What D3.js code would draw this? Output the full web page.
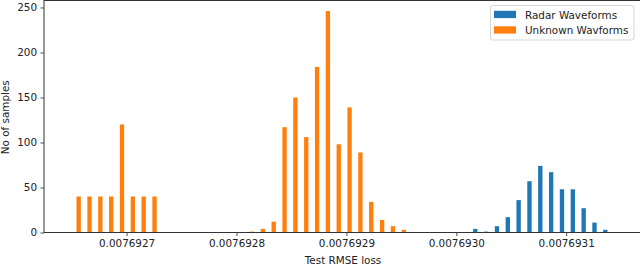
<!DOCTYPE html>
<html>
<head>
<meta charset="utf-8">
<script src="https://cdn.jsdelivr.net/npm/d3@7"></script>
<style>
  html, body { margin: 0; padding: 0; background: #fff; }
  svg { display: block; font-family: "DejaVu Sans", sans-serif; }
</style>
</head>
<body>
<svg id="chart" width="640" height="265"></svg>
<script>
// ---- data (histogram with 50 shared bins) ----
const seriesNames = ["Radar Waveforms", "Unknown Wavforms"];
const seriesColors = ["#1f77b4", "#ff7f0e"];
const histMin = 0.0076926495;
const histMax = 0.0076931425;
const binCount = 50;
const radarCounts = [
  0,0,0,0,0,0,0,0,0,0,
  0,0,0,0,0,0,0,0,0,0,
  0,0,0,0,0,0,0,0,0,0,
  0,0,0,0,0,0,0,4,1,7,
  17,36,57,74,67,48,48,27,11,3
];
const unknownCounts = [
  40,40,40,40,120,40,40,40,0,0,
  0,0,0,0,0,0,1,4,12,117,
  150,106,184,246,98,139,89,34,14,7,
  3,0,0,0,0,0,0,0,0,0,
  0,0,0,0,0,0,0,0,0,0
];
const xTickValues = [0.0076927, 0.0076928, 0.0076929, 0.0076930, 0.0076931];
const xTickLabels = ["0.0076927", "0.0076928", "0.0076929", "0.0076930", "0.0076931"];
const yTickValues = [0, 50, 100, 150, 200, 250];
const xLabel = "Test RMSE loss";
const yLabel = "No of samples";

// ---- layout ----
const svg = d3.select("#chart");
const L = 44, R = 640, T = 0, B = 232.5;
const span = histMax - histMin;
const x = d3.scaleLinear()
  .domain([histMin - 0.05 * span, histMax + 0.05 * span])
  .range([L, R]);
const yMax = d3.max(unknownCounts.concat(radarCounts)) * 1.05;
const y = d3.scaleLinear().domain([0, yMax]).range([B, T]);

const binW = span / binCount;
const series = [radarCounts, unknownCounts];
const fontSize = 10.4;

// bars
series.forEach((counts, s) => {
  svg.append("g")
    .selectAll("rect")
    .data(counts.map((c, i) => ({ c, i })).filter(d => d.c > 0))
    .join("rect")
    .attr("x", d => x(histMin + d.i * binW + binW * (0.1 + 0.4 * s)))
    .attr("width", d => x(histMin + binW * 0.4) - x(histMin))
    .attr("y", d => y(d.c))
    .attr("height", d => y(0) - y(d.c))
    .attr("fill", seriesColors[s]);
});

// axes
const xAxis = d3.axisBottom(x)
  .tickValues(xTickValues)
  .tickFormat((d, i) => xTickLabels[i])
  .tickSize(3.5).tickPadding(3.5);
const gx = svg.append("g").attr("transform", `translate(0,${B})`).call(xAxis);
const yAxis = d3.axisLeft(y).tickValues(yTickValues).tickSize(3.5).tickPadding(3.5);
const gy = svg.append("g").attr("transform", `translate(${L},0)`).call(yAxis);
[gx, gy].forEach(g => {
  g.select(".domain").remove();
  g.selectAll("line").attr("stroke", "#222").attr("stroke-width", 0.8);
  g.selectAll("text").attr("fill", "#222").style("font-size", fontSize + "px")
    .style("font-family", "'DejaVu Sans', sans-serif");
});

// frame (spines)
svg.append("rect")
  .attr("x", L).attr("y", T + 0.5)
  .attr("width", R - L + 2).attr("height", B - T - 0.5)
  .attr("fill", "none").attr("stroke", "#333").attr("stroke-width", 1);

// axis labels
svg.append("text")
  .attr("x", (L + R) / 2 + 1).attr("y", 263.5)
  .attr("text-anchor", "middle")
  .style("font-size", fontSize + "px").attr("fill", "#222")
  .text(xLabel);
svg.append("text")
  .attr("transform", `translate(9,${(T + B) / 2 + 1}) rotate(-90)`)
  .attr("text-anchor", "middle")
  .style("font-size", fontSize + "px").attr("fill", "#222")
  .text(yLabel);

// legend
const lg = svg.append("g");
lg.append("rect")
  .attr("x", 490.5).attr("y", 5.5).attr("width", 143.5).attr("height", 34.5)
  .attr("rx", 2).attr("fill", "#fff").attr("fill-opacity", 0.8)
  .attr("stroke", "#ccc").attr("stroke-width", 0.8);
seriesNames.forEach((name, i) => {
  lg.append("rect")
    .attr("x", 494).attr("y", 10.8 + i * 15.5)
    .attr("width", 22).attr("height", 7.3)
    .attr("fill", seriesColors[i]);
  lg.append("text")
    .attr("x", 525).attr("y", 18.5 + i * 15.5)
    .style("font-size", fontSize + "px").attr("fill", "#222")
    .text(name);
});
</script>
</body>
</html>
